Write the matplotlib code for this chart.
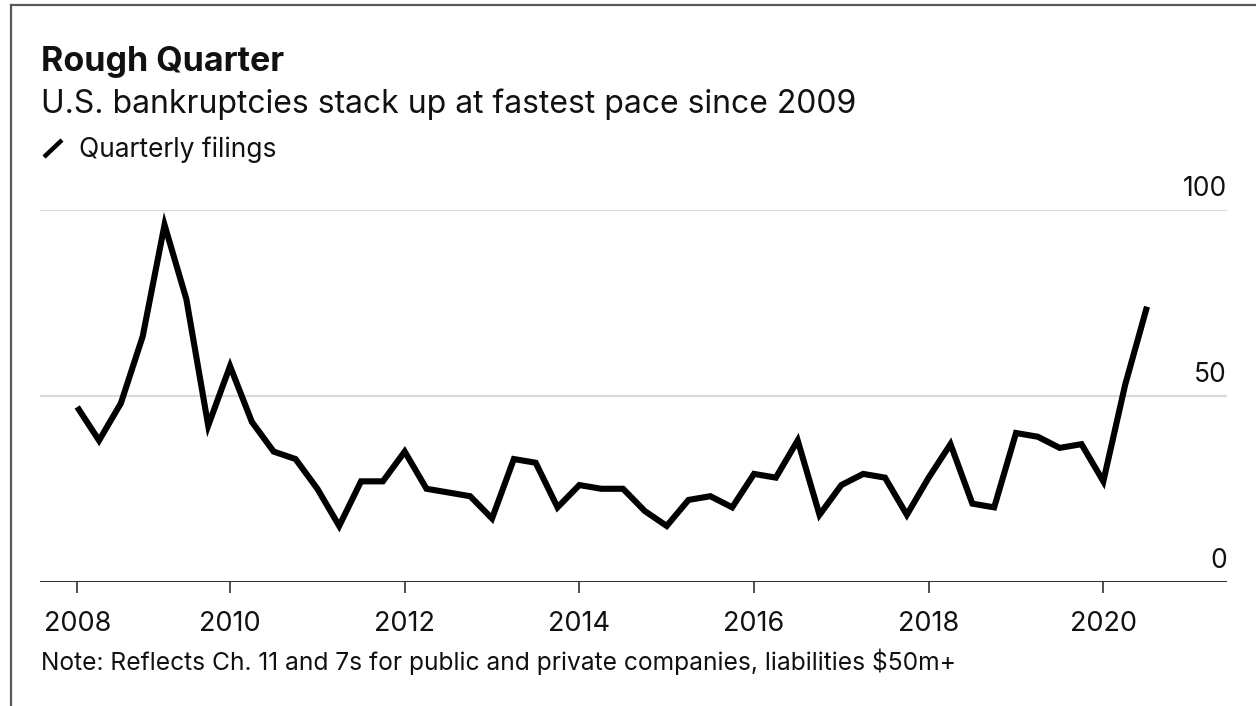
import matplotlib
matplotlib.use("Agg")
import matplotlib.pyplot as plt
from matplotlib.lines import Line2D
import numpy as np
import pandas as pd

# Quarterly U.S. bankruptcy filings (liabilities $50m+), Q1 2008 - Q2 2020
quarters = pd.period_range("2008Q1", "2020Q2", freq="Q")
filings = [47, 38, 48, 66, 96, 76, 42, 58,
           43, 35, 33, 25, 15, 27, 27, 35,
           25, 24, 23, 17, 33, 32, 20, 26,
           25, 25, 19, 15, 22, 23, 20, 29,
           28, 38, 18, 26, 29, 28, 18, 28,
           37, 21, 20, 40, 39, 36, 37, 27,
           53, 74]
y_ticks = [0, 50, 100]
x_tick_labels = ["2008", "2010", "2012", "2014", "2016", "2018", "2020"]

title = "Rough Quarter"
subtitle = "U.S. bankruptcies stack up at fastest pace since 2009"
legend_label = "Quarterly filings"
note = "Note: Reflects Ch. 11 and 7s for public and private companies, liabilities $50m+"

# quarter-end positions in decimal years
x = np.array([p.year + p.quarter / 4 for p in quarters])

plt.rcParams["font.family"] = ["Inter", "DejaVu Sans"]

W, H = 1256, 706
fig = plt.figure(figsize=(W / 100, H / 100), dpi=100)
fig.patch.set_facecolor("white")


def fx(px):
    return px / W


def fy(py):
    return 1 - py / H


# plot area: x from 40 to 1227 px, y 0 at 581.7 px, 100 at 210 px
ax = fig.add_axes([fx(40), fy(581.7), fx(1227) - fx(40), (581.7 - 210) / H])
ax.set_xlim(2007.824, 2021.416)
ax.set_ylim(0, 100)

for v in y_ticks[1:]:
    ax.axhline(v, color="#d9d9d9", lw=1.6, zorder=1)
ax.axhline(0, color="#1a1a1a", lw=1.3, zorder=2)

ax.plot(x, filings, color="black", lw=4.4, solid_joinstyle="miter",
        solid_capstyle="butt", zorder=3, clip_on=False)

for s in ax.spines.values():
    s.set_visible(False)

tick_pos = [x[0]] + [int(t) for t in x_tick_labels[1:]]
ax.set_xticks(tick_pos)
ax.set_xticklabels(x_tick_labels, fontsize=19.5)
ax.tick_params(axis="x", length=8, width=1.2, color="#333333", pad=13,
               labelcolor="#111111")
ax.set_yticks([])

# y labels sit above their gridlines at the right edge
for v in y_ticks:
    ax.annotate(str(v), xy=(1, v), xycoords=("axes fraction", "data"),
                xytext=(0, 10), textcoords="offset points",
                ha="right", va="baseline", fontsize=19, color="#111111")

# header text
fig.text(fx(41), fy(71), title, fontsize=24.5, fontweight="bold",
         va="baseline", ha="left", color="#111111")
fig.text(fx(41), fy(113), subtitle, fontsize=23,
         va="baseline", ha="left", color="#111111")
fig.add_artist(Line2D([fx(44), fx(62)], [fy(157), fy(140)],
                      color="black", lw=3.2, solid_capstyle="butt"))
fig.text(fx(79), fy(157), legend_label, fontsize=19,
         va="baseline", ha="left", color="#111111")

fig.text(fx(41), fy(670), note, fontsize=17.7,
         va="baseline", ha="left", color="#111111")

# frame edges
fig.add_artist(Line2D([fx(10.5), fx(10.5)], [0, fy(5)], color="#5a5a5a", lw=1.6))
fig.add_artist(Line2D([fx(10.5), 1], [fy(5), fy(5)], color="#5a5a5a", lw=1.6))

fig.savefig("out.png", dpi=100, facecolor="white")
